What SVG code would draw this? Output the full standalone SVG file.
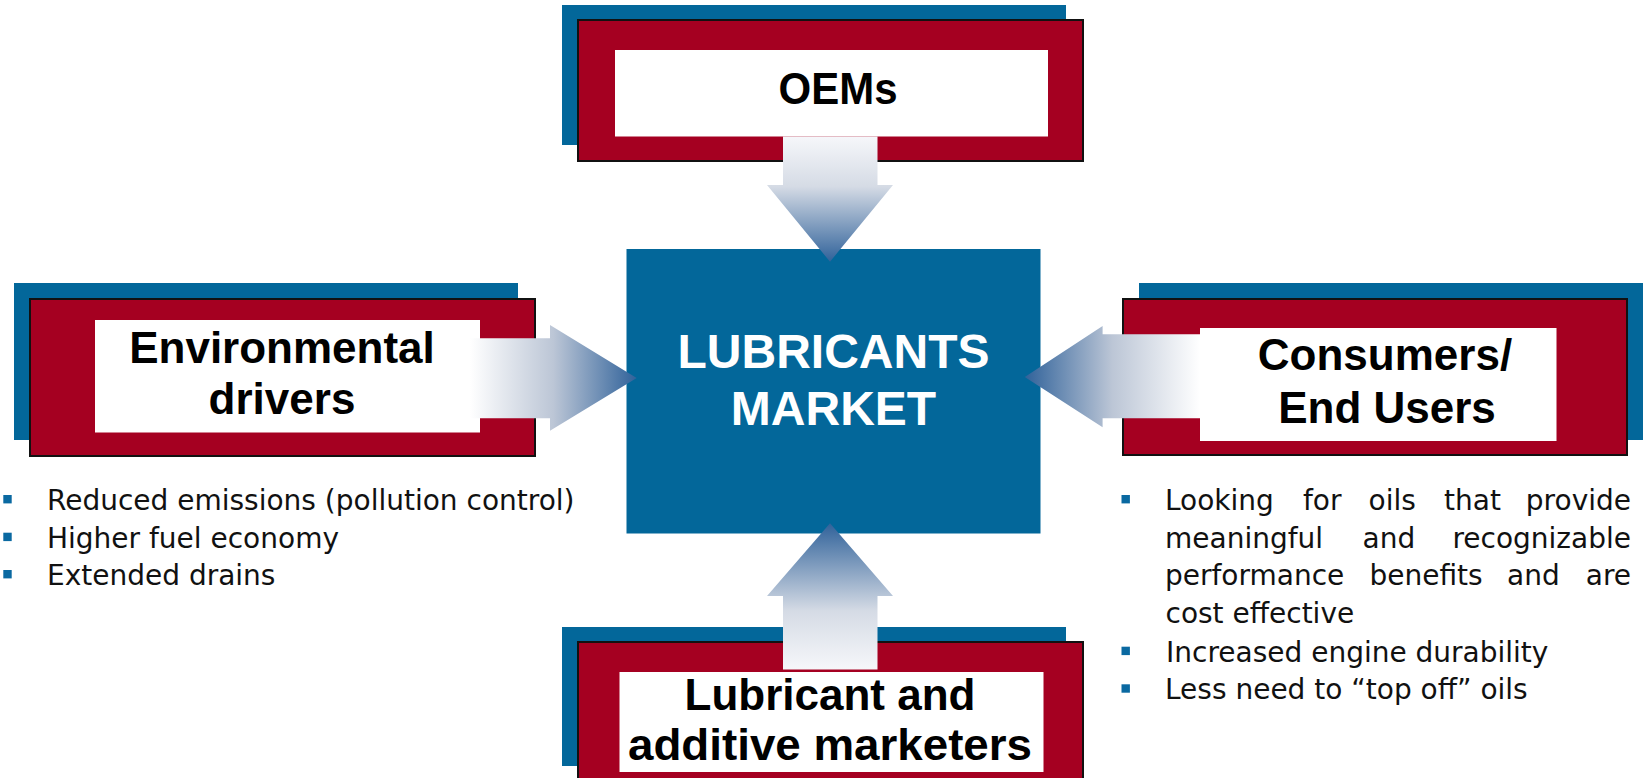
<svg xmlns="http://www.w3.org/2000/svg" width="1643" height="778" viewBox="0 0 1643 778">
  <style>
    .shadow { fill: #03679a; }
    .frame { fill: #a50021; stroke: #111111; stroke-width: 2; }
    .panel { fill: #ffffff; }
    .label { font-family: "Liberation Sans", Arial, sans-serif; font-weight: bold; font-size: 44px; fill: #000000; text-anchor: middle; }
    .hub-label { font-family: "Liberation Sans", Arial, sans-serif; font-weight: bold; font-size: 48px; fill: #ffffff; text-anchor: middle; }
    .body { font-family: "DejaVu Sans", "Liberation Sans", sans-serif; font-size: 28px; fill: #111111; }
    .end { text-anchor: end; }
    .bullet { fill: #0a69a1; }
  </style>
  <defs>
    <linearGradient id="flowRight" x1="0" y1="0" x2="1" y2="0">
      <stop offset="0" stop-color="#ffffff"/>
      <stop offset="0.5" stop-color="#bcc6d6"/>
      <stop offset="1" stop-color="#30629a"/>
    </linearGradient>
    <linearGradient id="flowLeft" x1="1" y1="0" x2="0" y2="0">
      <stop offset="0" stop-color="#ffffff"/>
      <stop offset="0.5" stop-color="#bcc6d6"/>
      <stop offset="1" stop-color="#30629a"/>
    </linearGradient>
    <linearGradient id="flowDown" x1="0" y1="0" x2="0" y2="1">
      <stop offset="0" stop-color="#f6f7fa"/>
      <stop offset="0.4" stop-color="#d5dbe5"/>
      <stop offset="1" stop-color="#30629a"/>
    </linearGradient>
    <linearGradient id="flowUp" x1="0" y1="1" x2="0" y2="0">
      <stop offset="0" stop-color="#f6f7fa"/>
      <stop offset="0.4" stop-color="#d5dbe5"/>
      <stop offset="1" stop-color="#30629a"/>
    </linearGradient>
  </defs>

  <!-- OEMs -->
  <g id="oems">
    <rect class="shadow" x="562" y="5" width="504" height="140"/>
    <rect class="frame" x="578" y="20" width="505" height="141"/>
    <rect class="panel" x="615" y="50" width="433" height="86.5"/>
    <text class="label" x="838" y="103.5" textLength="119" lengthAdjust="spacingAndGlyphs">OEMs</text>
  </g>

  <!-- Environmental drivers -->
  <g id="environmental-drivers">
    <rect class="shadow" x="14" y="283" width="504" height="157"/>
    <rect class="frame" x="30" y="299" width="505" height="157"/>
    <rect class="panel" x="95" y="320" width="385" height="112.5"/>
    <text class="label" x="282" y="362.5">Environmental</text>
    <text class="label" x="282" y="413.5">drivers</text>
  </g>

  <!-- Consumers / End Users -->
  <g id="consumers">
    <rect class="shadow" x="1139" y="283" width="520" height="157"/>
    <rect class="frame" x="1123" y="299" width="504" height="156"/>
    <rect class="panel" x="1200" y="328" width="356.5" height="113"/>
    <text class="label" x="1385" y="370">Consumers/</text>
    <text class="label" x="1387" y="422.5">End Users</text>
  </g>

  <!-- Lubricant and additive marketers -->
  <g id="marketers">
    <rect class="shadow" x="562" y="627" width="504" height="139"/>
    <rect class="frame" x="578" y="642" width="505" height="160"/>
    <rect class="panel" x="619.5" y="672" width="424" height="100"/>
    <text class="label" x="830" y="709.5">Lubricant and</text>
    <text class="label" x="830" y="760" textLength="404" lengthAdjust="spacingAndGlyphs">additive marketers</text>
  </g>

  <!-- Lubricants market (hub) -->
  <g id="lubricants-market">
    <rect x="626.5" y="249" width="414" height="284.5" fill="#03679a"/>
    <text class="hub-label" x="833.5" y="367.5">LUBRICANTS</text>
    <text class="hub-label" x="833.5" y="425">MARKET</text>
  </g>

  <!-- Flow arrows into the hub -->
  <g id="connectors">
    <polygon fill="url(#flowDown)" points="783,136.5 877.5,136.5 877.5,185 893,185 830,261.7 767,185 783,185"/>
    <polygon fill="url(#flowUp)" points="783,669.5 877.5,669.5 877.5,596 893,596 830,523.3 767,596 783,596"/>
    <polygon fill="url(#flowRight)" points="470,338.3 550,338.3 550,325 636.7,378 550,430.7 550,418.3 470,418.3"/>
    <polygon fill="url(#flowLeft)" points="1200,334.3 1102.6,334.3 1102.6,326 1024.8,377 1102.6,427.3 1102.6,418.3 1200,418.3"/>
  </g>

  <!-- Driver notes -->
  <g id="environmental-notes">
    <rect class="bullet" x="3.3" y="495" width="8.4" height="8.4"/>
    <rect class="bullet" x="3.3" y="532.7" width="8.4" height="8.4"/>
    <rect class="bullet" x="3.3" y="570" width="8.4" height="8.4"/>
    <text class="body" x="47" y="510">Reduced emissions (pollution control)</text>
    <text class="body" x="47" y="547.7">Higher fuel economy</text>
    <text class="body" x="47" y="585">Extended drains</text>
  </g>

  <g id="consumer-notes">
    <rect class="bullet" x="1121.5" y="495" width="8.4" height="8.4"/>
    <rect class="bullet" x="1121.5" y="646.7" width="8.4" height="8.4"/>
    <rect class="bullet" x="1121.5" y="684.3" width="8.4" height="8.4"/>
    <text class="body" x="1165" y="510">Looking</text>
    <text class="body" x="1303" y="510">for</text>
    <text class="body" x="1368.5" y="510">oils</text>
    <text class="body" x="1444" y="510">that</text>
    <text class="body end" x="1631" y="510">provide</text>
    <text class="body" x="1165" y="547.7">meaningful</text>
    <text class="body" x="1362.5" y="547.7">and</text>
    <text class="body end" x="1631" y="547.7">recognizable</text>
    <text class="body" x="1165" y="585">performance</text>
    <text class="body" x="1369.5" y="585">benefits</text>
    <text class="body" x="1507" y="585">and</text>
    <text class="body end" x="1631" y="585">are</text>
    <text class="body" x="1165.5" y="623.3">cost effective</text>
    <text class="body" x="1166" y="661.7">Increased engine durability</text>
    <text class="body" x="1165" y="699.3">Less need to “top off” oils</text>
  </g>
</svg>
